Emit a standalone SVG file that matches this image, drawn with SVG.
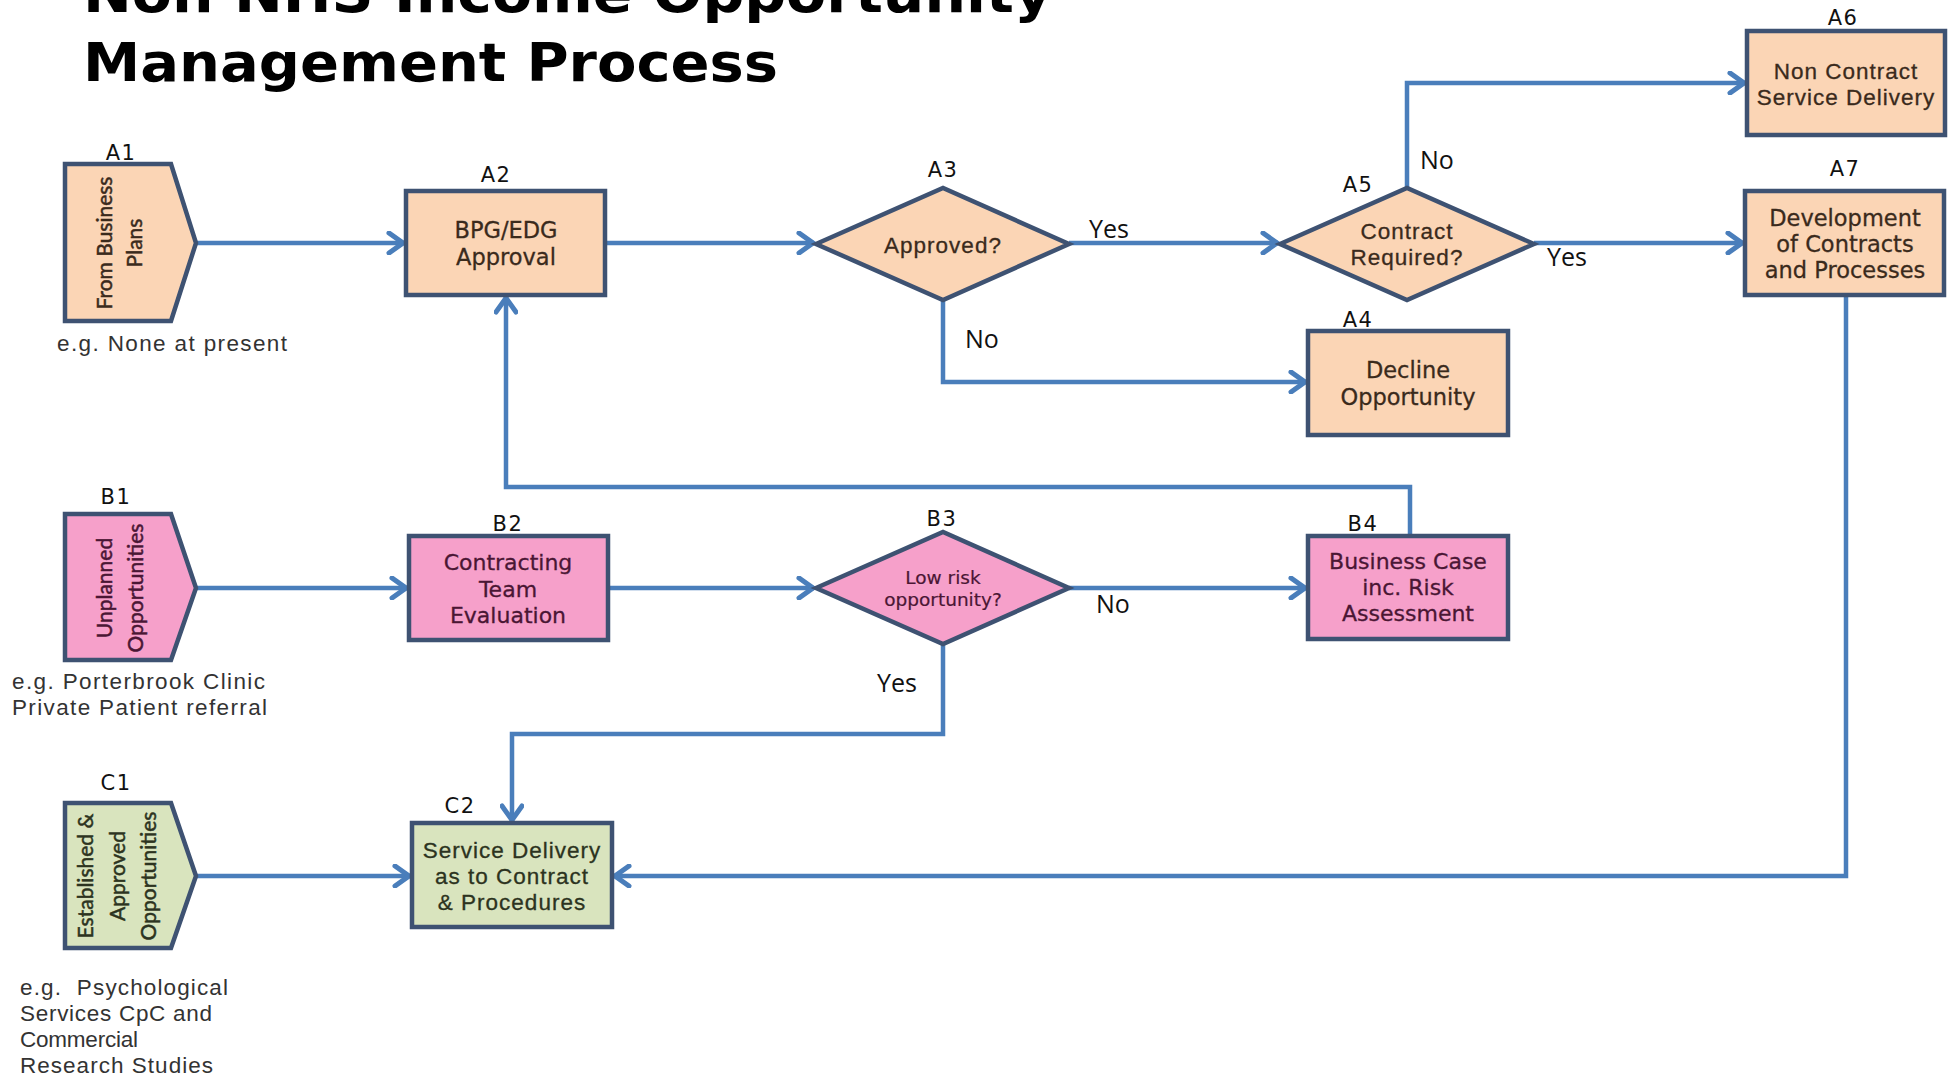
<svg xmlns="http://www.w3.org/2000/svg" width="1953" height="1079" viewBox="0 0 1953 1079">
<style>
.title{font-family:"DejaVu Sans",sans-serif;font-weight:bold;font-size:54px;fill:#000}
.lbl{font-family:"DejaVu Sans",sans-serif;font-size:21px;fill:#111;text-anchor:middle;letter-spacing:1.5px}
.yn{font-family:"Open Sans","Liberation Sans",sans-serif;font-size:25px;fill:#111}
.eg{font-family:"Liberation Sans",Arial,sans-serif;font-size:22.5px;fill:#333;white-space:pre}
.pa{fill:#FBD5B5;stroke:#3E5272;stroke-width:4.5}
.pb{fill:#F6A0CA;stroke:#3E5272;stroke-width:4.5}
.pc{fill:#D9E4BE;stroke:#3E5272;stroke-width:4.5}
.ta{font-family:"DejaVu Sans",sans-serif;font-size:22.5px;fill:#3A2A1C;stroke:#3A2A1C;stroke-width:0.3;text-anchor:middle}
.tac{font-family:"Liberation Sans",Arial,sans-serif;font-size:22.5px;letter-spacing:1px;fill:#3A2A1C;stroke:#3A2A1C;stroke-width:0.3;text-anchor:middle}
.tb{font-family:"DejaVu Sans",sans-serif;font-size:22px;fill:#4A1634;stroke:#4A1634;stroke-width:0.3;text-anchor:middle}
.tbc{font-family:"DejaVu Sans",sans-serif;font-size:18.5px;fill:#4A1634;stroke:#4A1634;stroke-width:0.2;text-anchor:middle}
.tc{font-family:"Liberation Sans",Arial,sans-serif;font-size:22.5px;letter-spacing:1px;fill:#2C3320;stroke:#2C3320;stroke-width:0.3;text-anchor:middle}
.rot{font-family:"Lato","Open Sans",sans-serif;font-size:21px;text-anchor:middle;stroke-width:0.5}
.cn{fill:none;stroke:#4A7EBB;stroke-width:4.5;stroke-linejoin:miter}
</style>
<defs>
<marker id="ah" viewBox="0 0 20 24" refX="18" refY="12" markerWidth="20" markerHeight="24" markerUnits="userSpaceOnUse" orient="auto">
<path d="M3,2 L17,12 L3,22" fill="none" stroke="#4A7EBB" stroke-width="5" stroke-linecap="round"/>
</marker>
</defs>
<rect width="1953" height="1079" fill="#fff"/>
<g id="title">
<text class="title" x="83" y="12" textLength="969" lengthAdjust="spacingAndGlyphs">Non NHS Income Opportunity</text>
<text class="title" x="83" y="81" textLength="695" lengthAdjust="spacingAndGlyphs">Management Process</text>
</g>
<g id="connectors">
<path class="cn" d="M196,243 H404" marker-end="url(#ah)"/>
<path class="cn" d="M605,243 H814" marker-end="url(#ah)"/>
<path class="cn" d="M1069,243 H1278" marker-end="url(#ah)"/>
<path class="cn" d="M943,300 V382 H1306" marker-end="url(#ah)"/>
<path class="cn" d="M1407,188 V83 H1745" marker-end="url(#ah)"/>
<path class="cn" d="M1534,243 H1743" marker-end="url(#ah)"/>
<path class="cn" d="M1846,295 V876 H614" marker-end="url(#ah)"/>
<path class="cn" d="M196,588 H407" marker-end="url(#ah)"/>
<path class="cn" d="M608,588 H814" marker-end="url(#ah)"/>
<path class="cn" d="M1069,588 H1306" marker-end="url(#ah)"/>
<path class="cn" d="M1410,536 V487 H506 V297" marker-end="url(#ah)"/>
<path class="cn" d="M943,644 V734 H512 V821" marker-end="url(#ah)"/>
<path class="cn" d="M196,876 H410" marker-end="url(#ah)"/>
<text class="yn" x="1089" y="238">Yes</text>
<text class="yn" x="965" y="348">No</text>
<text class="yn" x="1420" y="169">No</text>
<text class="yn" x="1547" y="266">Yes</text>
<text class="yn" x="1096" y="613">No</text>
<text class="yn" x="877" y="692">Yes</text>
</g>
<g id="A1">
<polygon class="pa" points="65,164 171,164 196,243 171,321 65,321"/>
<text class="rot" fill="#3A2A1C" stroke="#3A2A1C" transform="translate(112,243) rotate(-90)">From Business</text>
<text class="rot" fill="#3A2A1C" stroke="#3A2A1C" transform="translate(142,243) rotate(-90)">Plans</text>
<text class="lbl" x="121" y="160">A1</text>
<text class="eg" x="57" y="351" textLength="230" lengthAdjust="spacing">e.g. None at present</text>
</g>
<g id="A2">
<rect class="pa" x="406" y="191" width="199" height="104"/>
<text class="lbl" x="496" y="182">A2</text>
<text class="ta" x="506" y="238">BPG/EDG</text>
<text class="ta" x="506" y="265">Approval</text>
</g>
<g id="A3">
<polygon class="pa" points="816,244 943,188 1069,244 943,300"/>
<text class="lbl" x="943" y="177">A3</text>
<text class="tac" x="943" y="253">Approved?</text>
</g>
<g id="A4">
<rect class="pa" x="1308" y="331" width="200" height="104"/>
<text class="lbl" x="1358" y="327">A4</text>
<text class="ta" x="1408" y="378">Decline</text>
<text class="ta" x="1408" y="405">Opportunity</text>
</g>
<g id="A5">
<polygon class="pa" points="1280,244 1407,188 1534,244 1407,300"/>
<text class="lbl" x="1358" y="192">A5</text>
<text class="tac" x="1407" y="239">Contract</text>
<text class="tac" x="1407" y="265">Required?</text>
</g>
<g id="A6">
<rect class="pa" x="1747" y="31" width="198" height="104"/>
<text class="lbl" x="1843" y="25">A6</text>
<text class="tac" x="1846" y="79">Non Contract</text>
<text class="tac" x="1846" y="105">Service Delivery</text>
</g>
<g id="A7">
<rect class="pa" x="1745" y="191" width="199" height="104"/>
<text class="lbl" x="1845" y="176">A7</text>
<text class="ta" x="1845" y="226">Development</text>
<text class="ta" x="1845" y="252">of Contracts</text>
<text class="ta" x="1845" y="278">and Processes</text>
</g>
<g id="B1">
<polygon class="pb" points="65,514 171,514 196,588 171,660 65,660"/>
<text class="rot" fill="#4A1634" stroke="#4A1634" transform="translate(112,588) rotate(-90)">Unplanned</text>
<text class="rot" fill="#4A1634" stroke="#4A1634" transform="translate(143,588) rotate(-90)">Opportunities</text>
<text class="lbl" x="116" y="504">B1</text>
<text class="eg" x="12" y="689" textLength="253" lengthAdjust="spacing">e.g. Porterbrook Clinic</text>
<text class="eg" x="12" y="715" textLength="255" lengthAdjust="spacing">Private Patient referral</text>
</g>
<g id="B2">
<rect class="pb" x="409" y="536" width="199" height="104"/>
<text class="lbl" x="508" y="531">B2</text>
<text class="tb" x="508" y="570">Contracting</text>
<text class="tb" x="508" y="597">Team</text>
<text class="tb" x="508" y="623">Evaluation</text>
</g>
<g id="B3">
<polygon class="pb" points="816,588 943,532 1069,588 943,644"/>
<text class="lbl" x="942" y="526">B3</text>
<text class="tbc" x="943" y="584">Low risk</text>
<text class="tbc" x="943" y="606">opportunity?</text>
</g>
<g id="B4">
<rect class="pb" x="1308" y="536" width="200" height="103"/>
<text class="lbl" x="1363" y="531">B4</text>
<text class="tb" x="1408" y="569">Business Case</text>
<text class="tb" x="1408" y="595">inc. Risk</text>
<text class="tb" x="1408" y="621">Assessment</text>
</g>
<g id="C1">
<polygon class="pc" points="65,803 171,803 196,876 171,948 65,948"/>
<text class="rot" fill="#2C3320" stroke="#2C3320" transform="translate(93,876) rotate(-90)">Established &amp;</text>
<text class="rot" fill="#2C3320" stroke="#2C3320" transform="translate(125,876) rotate(-90)">Approved</text>
<text class="rot" fill="#2C3320" stroke="#2C3320" transform="translate(156,876) rotate(-90)">Opportunities</text>
<text class="lbl" x="116" y="790">C1</text>
<text class="eg" x="20" y="995" textLength="208" lengthAdjust="spacing">e.g.&#160; Psychological</text>
<text class="eg" x="20" y="1021" textLength="192" lengthAdjust="spacing">Services CpC and</text>
<text class="eg" x="20" y="1047" textLength="118" lengthAdjust="spacing">Commercial</text>
<text class="eg" x="20" y="1073" textLength="193" lengthAdjust="spacing">Research Studies</text>
</g>
<g id="C2">
<rect class="pc" x="412" y="823" width="200" height="104"/>
<text class="lbl" x="460" y="813">C2</text>
<text class="tc" x="512" y="858">Service Delivery</text>
<text class="tc" x="512" y="884">as to Contract</text>
<text class="tc" x="512" y="910">&amp; Procedures</text>
</g>
</svg>
